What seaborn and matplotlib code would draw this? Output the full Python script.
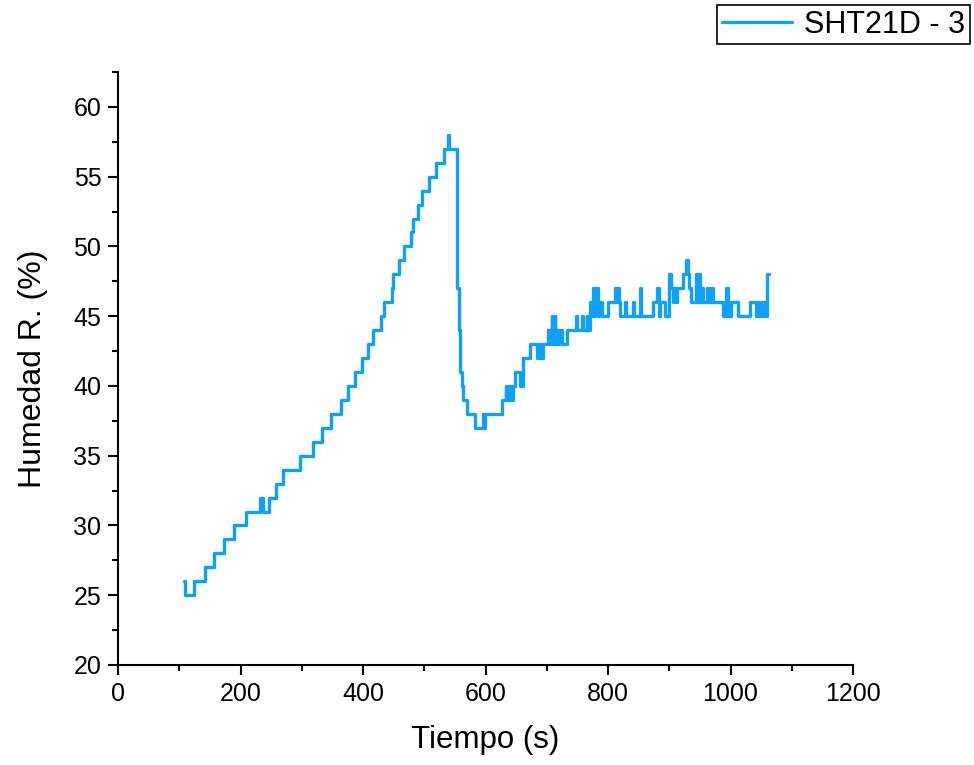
import matplotlib
matplotlib.use("Agg")
import matplotlib.pyplot as plt
import seaborn as sns
import pandas as pd
from matplotlib.ticker import MultipleLocator

# ---- data: step change points (time in s, relative humidity in %) ----
time_s = [108, 110, 124, 142, 157, 173, 189, 209, 232, 236, 247, 258, 270, 297,
          319, 333, 348, 364, 375, 387, 398, 408, 417, 429, 434, 447, 449, 459,
          467, 478, 482, 490, 497, 508, 519, 532, 538, 541, 553, 554, 556, 558,
          561, 564, 569, 583, 596, 597, 599, 627, 633, 634, 636, 637, 639, 640,
          642, 643, 645, 648, 656, 661, 672, 684, 685, 687, 689, 691, 694, 702,
          704, 706, 708, 709, 711, 713, 714, 716, 718, 720, 722, 725, 727, 733,
          748, 749, 758, 759, 765, 766, 771, 773, 775, 777, 779, 781, 784, 786,
          790, 800, 812, 814, 816, 818, 820, 828, 830, 840, 842, 852, 854, 869,
          873, 880, 883, 885, 887, 893, 899, 903, 906, 908, 911, 913, 917, 922,
          927, 931, 933, 935, 943, 945, 947, 949, 951, 953, 955, 962, 964, 966,
          968, 970, 972, 975, 988, 993, 996, 1000, 1012, 1032, 1042, 1044, 1046,
          1049, 1051, 1053, 1057, 1060, 1063]
rh = [26, 25, 26, 27, 28, 29, 30, 31, 32, 31, 32, 33, 34, 35,
      36, 37, 38, 39, 40, 41, 42, 43, 44, 45, 46, 47, 48, 49,
      50, 51, 52, 53, 54, 55, 56, 57, 58, 57, 55, 47, 44, 41,
      40, 39, 38, 37, 38, 37, 38, 39, 40, 39, 40, 39, 40, 39,
      40, 39, 40, 41, 40, 42, 43, 42, 43, 42, 43, 42, 43, 44,
      43, 44, 45, 43, 44, 45, 43, 44, 43, 44, 44, 43, 43, 44,
      45, 44, 45, 44, 45, 44, 46, 45, 47, 45, 46, 47, 45, 46,
      45, 46, 47, 46, 47, 46, 45, 46, 45, 46, 45, 47, 45, 45,
      46, 47, 45, 46, 46, 45, 48, 47, 46, 47, 46, 47, 47, 48,
      49, 48, 47, 46, 48, 46, 47, 48, 46, 47, 46, 47, 46, 47,
      46, 47, 46, 46, 45, 47, 45, 46, 45, 46, 45, 46, 45,
      46, 45, 46, 45, 48, 48]
series_label = "SHT21D - 3"

df = pd.DataFrame({"Tiempo (s)": time_s, "Humedad R. (%)": rh})

sns.set_style("ticks")
plt.rcParams["font.family"] = ["Liberation Sans", "DejaVu Sans"]
plt.rcParams["text.color"] = "black"
plt.rcParams["axes.labelcolor"] = "black"

fig = plt.figure(figsize=(9.74, 7.65), dpi=100)
ax = fig.add_axes([118 / 974, 1 - 665 / 765, (853 - 118) / 974, (665 - 72) / 765])

sns.lineplot(data=df, x="Tiempo (s)", y="Humedad R. (%)", ax=ax,
             estimator=None, sort=False, drawstyle="steps-post",
             color="#10A0F5", linewidth=2.4, label=series_label)

ax.set_xlim(0, 1200)
ax.set_ylim(20, 62.5)
ax.xaxis.set_major_locator(MultipleLocator(200))
ax.xaxis.set_minor_locator(MultipleLocator(100))
ax.yaxis.set_major_locator(MultipleLocator(5))
ax.yaxis.set_minor_locator(MultipleLocator(2.5))

for s in ["top", "right"]:
    ax.spines[s].set_visible(False)
for s in ["left", "bottom"]:
    ax.spines[s].set_linewidth(1.5)
    ax.spines[s].set_color("black")

ax.tick_params(which="major", direction="out", length=7, width=1.5,
               labelsize=18, colors="black", pad=5)
ax.tick_params(which="minor", direction="out", length=4, width=1.5, colors="black")

ax.set_xlabel("Tiempo (s)", fontsize=22.5, labelpad=14, color="black")
ax.set_ylabel("Humedad R. (%)", fontsize=23, labelpad=18, color="black")

ax.legend_.remove()
handles, labels = ax.get_legend_handles_labels()
leg = fig.legend(handles, labels, loc="upper right",
                 bbox_to_anchor=(970 / 974, 1 - 5 / 765),
                 fontsize=22, frameon=True, fancybox=False, framealpha=1,
                 edgecolor="black", handlelength=2.3, handletextpad=0.4,
                 borderpad=0.15, borderaxespad=0, labelcolor="black")
leg.get_frame().set_linewidth(1.2)

fig.savefig("out.png", dpi=100)
